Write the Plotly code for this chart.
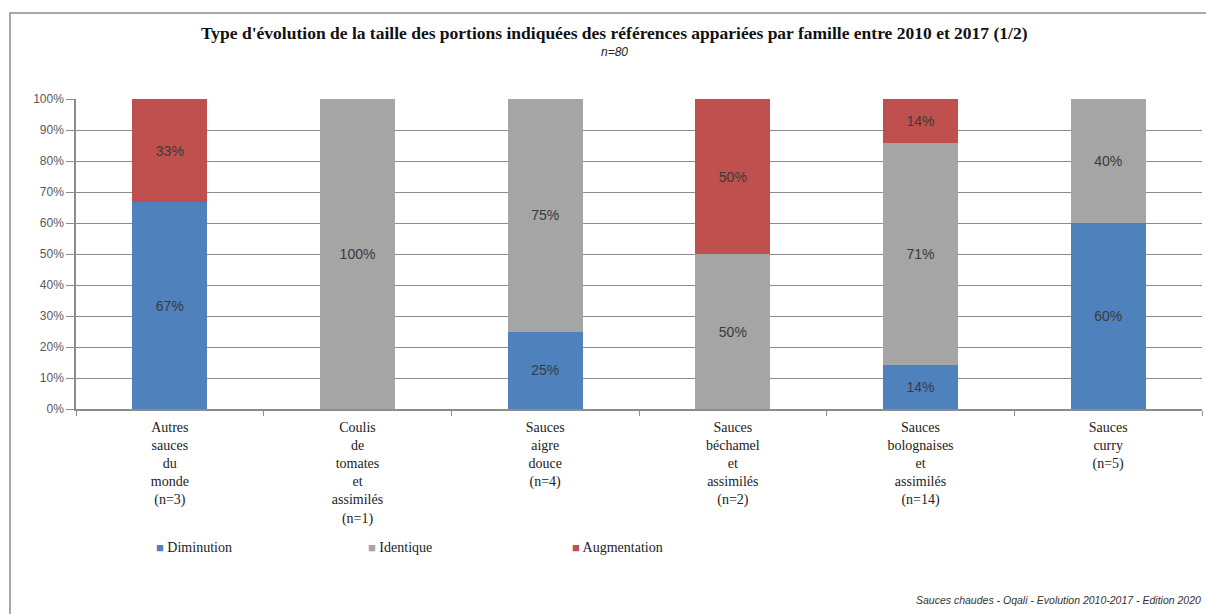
import plotly.graph_objects as go

categories = [
    "Autres<br>sauces<br>du<br>monde<br>(n=3)",
    "Coulis<br>de<br>tomates<br>et<br>assimilés<br>(n=1)",
    "Sauces<br>aigre<br>douce<br>(n=4)",
    "Sauces<br>béchamel<br>et<br>assimilés<br>(n=2)",
    "Sauces<br>bolognaises<br>et<br>assimilés<br>(n=14)",
    "Sauces<br>curry<br>(n=5)",
]
diminution = [66.7, 0, 25, 0, 14.3, 60]
identique = [0, 100, 75, 50, 71.4, 40]
augmentation = [33.3, 0, 0, 50, 14.3, 0]

series = [
    ("Diminution", diminution, "#4F81BD"),
    ("Identique", identique, "#A5A5A5"),
    ("Augmentation", augmentation, "#C0504D"),
]

W, H = 1206, 614
L, R, T, B = 76, 4, 99, 205
pw, ph = W - L - R, H - T - B

def px(x):
    return (x - L) / pw

def py(y):
    return (H - B - y) / ph

fig = go.Figure()
for name, vals, col in series:
    fig.add_trace(go.Bar(
        x=categories, y=vals, name=name,
        marker=dict(color=col, line=dict(width=0)),
        text=[f"{round(v)}%" if v > 0 else "" for v in vals],
        textposition="inside", insidetextanchor="middle",
        textangle=0, constraintext="none",
        textfont=dict(family="Liberation Sans, Arial", size=14, color="#3A3A3A"),
        hoverinfo="skip", showlegend=False,
    ))

legend_x = [168, 380, 584]
legend_ann = []
for (name, vals, col), lx in zip(series, legend_x):
    legend_ann.append(dict(
        text=f"<span style='color:{col};font-size:13px'>■</span> {name}",
        xref="paper", yref="paper", x=px(lx - 14), y=py(547),
        xanchor="left", yanchor="middle", showarrow=False,
        font=dict(family="Liberation Serif, serif", size=14, color="#222"),
    ))

frame_path = f"M {px(10)},{py(640)} L {px(10)},{py(13)} L {px(1240)},{py(13)}"

fig.update_layout(
    width=W, height=H,
    margin=dict(l=L, r=R, t=T, b=B, autoexpand=False),
    barmode="stack", bargap=0.6,
    plot_bgcolor="white", paper_bgcolor="white",
    showlegend=False,
    yaxis=dict(
        range=[0, 100], tickvals=[0, 10, 20, 30, 40, 50, 60, 70, 80, 90, 100],
        ticktext=[f"{v}%" for v in range(0, 101, 10)],
        showgrid=True, gridcolor="#8C8C8C", gridwidth=1,
        showline=True, linecolor="#8C8C8C", linewidth=1.5,
        ticks="outside", ticklen=8, tickcolor="#8C8C8C",
        tickfont=dict(family="Liberation Sans, Arial", size=12, color="#595959"),
        zeroline=False, fixedrange=True,
    ),
    xaxis=dict(
        showline=True, linecolor="#8C8C8C", linewidth=1.5,
        ticks="outside", ticklen=5, tickcolor="#8C8C8C", tickson="boundaries",
        tickfont=dict(family="Liberation Serif, serif", size=14, color="#222"),
        ticklabelstandoff=4,
        showgrid=False, fixedrange=True,
    ),
    shapes=[dict(
        type="path", xref="paper", yref="paper", path=frame_path,
        line=dict(color="#8C8C8C", width=1.5), layer="below",
    )],
    annotations=[
        dict(text="<b>Type d'évolution de la taille des portions indiquées des références appariées par famille entre 2010 et 2017 (1/2)</b>",
             xref="paper", yref="paper", x=px(614), y=py(33), xanchor="center", yanchor="middle",
             showarrow=False, font=dict(family="Liberation Serif, serif", size=17.5, color="#111")),
        dict(text="<i>n=80</i>",
             xref="paper", yref="paper", x=px(614), y=py(52), xanchor="center", yanchor="middle",
             showarrow=False, font=dict(family="Liberation Sans, Arial", size=12, color="#222")),
        dict(text="<i>Sauces chaudes - Oqali - Evolution 2010-2017 - Edition 2020</i>",
             xref="paper", yref="paper", x=px(1203), y=py(600), xanchor="right", yanchor="middle",
             showarrow=False, font=dict(family="Liberation Sans, Arial", size=10.5, color="#333")),
    ] + legend_ann,
)

fig.write_html("out.html", config={"displayModeBar": False},
               post_script="document.body.style.margin='0px';document.body.style.overflow='hidden';")
